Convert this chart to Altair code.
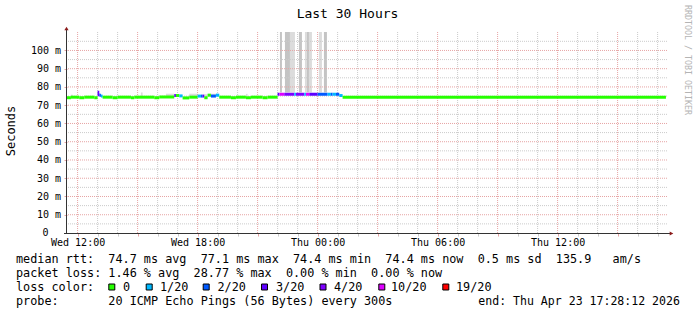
import altair as alt
import pandas as pd

MONO = "DejaVu Sans Mono"
DAYS = {"Wed": "2026-04-22", "Thu": "2026-04-23"}


def ts(s):
    d, hm = s.split()
    return f"{DAYS[d]}T{hm}:00"


# ---- median rtt segments (start, end, median ms, loss class) ----
seg_start = ["Wed 11:28", "Wed 11:40", "Wed 12:05", "Wed 12:20", "Wed 12:50",
             "Wed 13:00", "Wed 13:00", "Wed 13:05", "Wed 13:10", "Wed 13:15",
             "Wed 13:45", "Wed 14:00", "Wed 14:40", "Wed 14:50", "Wed 15:50",
             "Wed 16:05", "Wed 16:50", "Wed 16:55", "Wed 17:05", "Wed 17:15",
             "Wed 17:35", "Wed 18:00", "Wed 18:10", "Wed 18:15", "Wed 18:20",
             "Wed 18:30", "Wed 18:40", "Wed 18:55", "Wed 19:05", "Wed 19:40",
             "Wed 19:55", "Wed 20:25", "Wed 20:40", "Wed 21:15", "Wed 21:30",
             "Wed 22:00", "Wed 22:05", "Wed 22:20", "Wed 22:50", "Wed 22:55",
             "Wed 23:20", "Wed 23:25", "Wed 23:35", "Thu 00:00", "Thu 00:30",
             "Thu 00:40", "Thu 00:45", "Thu 00:55", "Thu 01:05", "Thu 01:15"]
seg_end = ["Wed 11:40", "Wed 12:05", "Wed 12:20", "Wed 12:50", "Wed 13:00",
           "Wed 13:05", "Wed 13:05", "Wed 13:10", "Wed 13:15", "Wed 13:45",
           "Wed 14:00", "Wed 14:40", "Wed 14:50", "Wed 15:50", "Wed 16:05",
           "Wed 16:50", "Wed 16:55", "Wed 17:05", "Wed 17:15", "Wed 17:35",
           "Wed 18:00", "Wed 18:10", "Wed 18:15", "Wed 18:20", "Wed 18:30",
           "Wed 18:40", "Wed 18:55", "Wed 19:05", "Wed 19:40", "Wed 19:55",
           "Wed 20:25", "Wed 20:40", "Wed 21:15", "Wed 21:30", "Wed 22:00",
           "Wed 22:05", "Wed 22:20", "Wed 22:50", "Wed 22:55", "Wed 23:20",
           "Wed 23:25", "Wed 23:35", "Thu 00:00", "Thu 00:30", "Thu 00:40",
           "Thu 00:45", "Thu 00:55", "Thu 01:05", "Thu 01:15", "Thu 17:25"]
seg_median = [74.1, 74.4, 74.1, 74.4, 74.1,
              77.1, 75.8, 75.4, 75.0, 74.4,
              74.1, 74.4, 74.1, 74.4, 74.1,
              74.5, 75.3, 75.3, 75.1, 74.0,
              74.4, 75.0, 75.0, 75.0, 74.1,
              75.5, 75.0, 75.5, 74.4, 74.1,
              74.4, 74.1, 74.4, 74.1, 74.4,
              76.0, 76.0, 76.0, 76.0, 76.0,
              76.0, 76.0, 76.0, 76.0, 76.0,
              76.0, 76.0, 76.0, 75.3, 74.4]
seg_loss = ["0", "0", "0", "0", "0",
            "3/20", "3/20", "2/20", "1/20", "0",
            "0", "0", "0", "0", "0",
            "0", "3/20", "0", "1/20", "0",
            "0", "1/20", "2/20", "3/20", "0",
            "0", "2/20", "1/20", "0", "0",
            "0", "0", "0", "0", "0",
            "3/20", "10/20", "4/20", "1/20", "4/20",
            "1/20", "10/20", "3/20", "2/20", "1/20",
            "2/20", "1/20", "2/20", "1/20", "0"]

# ---- smoke (individual ping spread) ----
smoke_start = ["Wed 22:07", "Wed 22:22", "Wed 22:37", "Wed 23:04", "Wed 23:22",
               "Wed 23:28", "Wed 23:34", "Thu 00:04", "Thu 00:19",
               "Wed 11:40", "Wed 15:10", "Wed 16:25", "Wed 17:35", "Wed 18:20",
               "Wed 18:40", "Wed 20:25"]
smoke_end = ["Wed 22:13", "Wed 22:37", "Wed 22:52", "Wed 23:13", "Wed 23:28",
             "Wed 23:34", "Wed 23:43", "Thu 00:13", "Thu 00:28",
             "Wed 11:45", "Wed 15:15", "Wed 16:50", "Wed 18:00", "Wed 18:30",
             "Wed 19:00", "Wed 20:30"]
smoke_lo = [77.0, 77.0, 77.0, 77.0, 77.0, 77.0, 77.0, 77.0, 77.0,
            74.9, 75.0, 75.0, 75.0, 75.0, 75.0, 75.0]
smoke_hi = [130, 130, 130, 130, 130, 130, 130, 130, 130,
            75.8, 77.0, 76.3, 76.3, 76.0, 76.3, 76.2]
smoke_shade = ["dark", "dark", "light", "dark", "light", "dark", "light", "light", "dark",
               "light", "light", "light", "light", "light", "light", "light"]

loss_levels = ["0", "1/20", "2/20", "3/20", "4/20", "10/20", "19/20"]
loss_colors = ["#26ff00", "#00b8ff", "#0059ff", "#5e00ff", "#7e00ff", "#dd00ff", "#ff0000"]

legend_lines = [
    "median rtt:  74.7 ms avg  77.1 ms max  74.4 ms min  74.4 ms now  0.5 ms sd  135.9   am/s",
    "packet loss: 1.46 % avg  28.77 % max  0.00 % min  0.00 % now",
]
probe_text = "probe:       20 ICMP Echo Pings (56 Bytes) every 300s"
end_text = "end: Thu Apr 23 17:28:12 2026"
title_text = "Last 30 Hours"
y_title = "Seconds"
credit = "RRDTOOL / TOBI OETIKER"

# ---- tables ----
seg = pd.DataFrame({
    "t0": [ts(s) for s in seg_start], "t1": [ts(s) for s in seg_end],
    "med": seg_median, "loss": seg_loss,
})
smoke = pd.DataFrame({
    "t0": [ts(s) for s in smoke_start], "t1": [ts(s) for s in smoke_end],
    "lo": smoke_lo, "hi": smoke_hi, "shade": smoke_shade,
})

hours_wed = list(range(12, 24))
hours_thu = list(range(0, 18))
grid_times = ([(f"2026-04-22T{h:02d}:00:00", h) for h in hours_wed]
              + [(f"2026-04-23T{h:02d}:00:00", h) for h in hours_thu])
xgrid_minor = pd.DataFrame({"t": [t for t, h in grid_times if h % 3 != 0]})
xgrid_major = pd.DataFrame({"t": [t for t, h in grid_times if h % 3 == 0]})
ygrid_minor = pd.DataFrame({"v": list(range(5, 110, 10))})
ygrid_major = pd.DataFrame({"v": list(range(10, 110, 10))})

hour_ticks = ([alt.DateTime(year=2026, month=4, date=22, hours=h) for h in hours_wed]
              + [alt.DateTime(year=2026, month=4, date=23, hours=h) for h in hours_thu])

xscale = alt.Scale(domain=["2026-04-22T11:28:12", "2026-04-23T17:28:12"])
yscale = alt.Scale(domain=[0, 110.1], nice=False, zero=False)

MAJOR = "#e6a4a4"
MINOR = "#cbcbcb"

xaxis = alt.Axis(
    values=hour_ticks, grid=False, domain=False, tickSize=3,
    tickColor=alt.condition("hours(datum.value) % 3 == 0", alt.value(MAJOR), alt.value(MINOR)),
    labelExpr="hours(datum.value) % 6 == 0 ? timeFormat(datum.value, '%a %H:%M') : ''",
    labelFont=MONO, labelFontSize=10, labelColor="#000", labelPadding=1,
    labelOverlap=False, labelFlush=False, title=None,
)
yaxis = alt.Axis(
    values=list(range(10, 101, 10)), grid=False, domain=False, tickSize=3, tickColor=MAJOR,
    labelExpr="datum.value + ' m'",
    labelFont=MONO, labelFontSize=10, labelColor="#000", labelPadding=3.5,
    labelOverlap=False, labelFlush=False, title=None,
)

X0 = alt.X("t0:T", scale=xscale, axis=xaxis)
X1 = alt.X2("t1:T")

layers = []

# smoke
for shade, col in [("light", "#dcdcdc"), ("dark", "#c4c4c4")]:
    layers.append(
        alt.Chart(smoke).transform_filter(alt.datum.shade == shade)
        .mark_rect(clip=True, color=col)
        .encode(x=X0, x2=X1, y=alt.Y("lo:Q", scale=yscale, axis=yaxis), y2="hi:Q")
    )

# grid
for xg, yg, col in [(xgrid_minor, ygrid_minor, MINOR), (xgrid_major, ygrid_major, MAJOR)]:
    layers.append(
        alt.Chart(xg).mark_rule(color=col, strokeDash=[1, 1], strokeWidth=1)
        .encode(x=alt.X("t:T", scale=xscale, axis=xaxis))
    )
    layers.append(
        alt.Chart(yg).mark_rule(color=col, strokeDash=[1, 1], strokeWidth=1)
        .encode(y=alt.Y("v:Q", scale=yscale, axis=yaxis))
    )

# median line, coloured by loss
layers.append(
    alt.Chart(seg)
    .transform_calculate(lo="datum.med - 0.82", hi="datum.med + 0.82")
    .mark_rect()
    .encode(
        x=X0, x2=X1,
        y=alt.Y("lo:Q", scale=yscale, axis=yaxis), y2="hi:Q",
        color=alt.Color("loss:N", scale=alt.Scale(domain=loss_levels, range=loss_colors), legend=None),
    )
)

ONE = alt.Data(values=[{}])

# axis lines and arrows
layers.append(alt.Chart(ONE).mark_rule(color="#333333", strokeWidth=1)
              .encode(x=alt.value(-3), x2=alt.value(603), y=alt.value(201.5)))
layers.append(alt.Chart(ONE).mark_rule(color="#333333", strokeWidth=1)
              .encode(x=alt.value(-0.5), y=alt.value(-4), y2=alt.value(201.5)))
layers.append(alt.Chart(ONE).mark_point(shape="triangle-up", filled=True, size=18, color="#8b1a1a", opacity=1)
              .encode(x=alt.value(-0.5), y=alt.value(-3.5)))
layers.append(alt.Chart(ONE).mark_point(shape="triangle-right", filled=True, size=18, color="#8b1a1a", opacity=1)
              .encode(x=alt.value(604.5), y=alt.value(201.5)))


def label(text, x, y, size=11.8, align="left", angle=0, color="#000", baseline="alphabetic"):
    return (alt.Chart(ONE)
            .mark_text(text=text.replace(" ", "\u00a0"), font=MONO, fontSize=size, align=align,
                       baseline=baseline, angle=angle, color=color)
            .encode(x=alt.value(x), y=alt.value(y)))


# zero label of the y axis (placed like rrdtool: under the digits column)
layers.append(label("0", -18.5, 201, size=10, align="right", baseline="middle"))

layers.append(label(title_text, 280.5, -14, size=13, align="center"))
layers.append(label(y_title, -56, 99, size=12, align="center", angle=270, baseline="middle"))
layers.append(label(credit, 620, 28, size=8.3, align="center", angle=90, color="#b4b4b4", baseline="middle"))

layers.append(label(legend_lines[0], -51, 230.7))
layers.append(label(legend_lines[1], -51, 244.7))
layers.append(label("loss color:", -51, 258.7))
layers.append(label(probe_text, -51, 272.7))
layers.append(label(end_text, 411.3, 272.7, size=11.55))

box_left = [108.3, 145.7, 202.7, 261.0, 319.5, 378.3, 442.3]
text_left = [123.0, 160.0, 217.5, 276.0, 334.0, 391.0, 456.0]
for lvl, col, bx, tx in zip(loss_levels, loss_colors, box_left, text_left):
    layers.append(alt.Chart(ONE).mark_square(size=36, color=col, filled=True, stroke="#000",
                                             strokeWidth=1, opacity=1)
                  .encode(x=alt.value(bx - 67 + 3.5), y=alt.value(255)))
    layers.append(label(lvl, tx - 67, 258.7))

chart = (
    alt.layer(*layers)
    .properties(width=600, height=201,
                autosize=alt.AutoSizeParams(type="none"),
                padding={"left": 67, "top": 32, "right": 30, "bottom": 82},
                background="white")
    .configure_view(stroke=None)
)

chart.save("out.html", embed_options={"renderer": "svg", "actions": False})
